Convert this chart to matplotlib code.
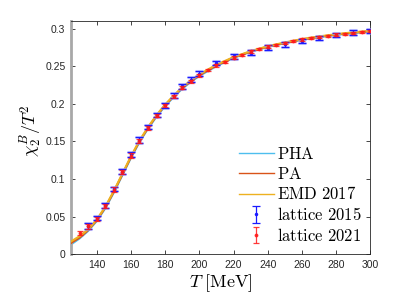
import matplotlib
matplotlib.use("Agg")
import matplotlib.pyplot as plt
import numpy as np

# model curves
T_curve = [125, 130, 135, 140, 145, 150, 155, 160, 165, 170, 175, 180, 185, 190, 195,
           200, 210, 220, 230, 240, 250, 260, 270, 280, 290, 300]
pha = [0.013, 0.021, 0.031, 0.044, 0.061, 0.082, 0.105, 0.128, 0.149, 0.167, 0.183,
       0.197, 0.209, 0.220, 0.229, 0.237, 0.250, 0.261, 0.269, 0.2755, 0.2805, 0.285,
       0.2885, 0.2915, 0.294, 0.296]
pa = [0.015, 0.022, 0.032, 0.045, 0.062, 0.083, 0.106, 0.129, 0.150, 0.168, 0.184,
      0.198, 0.210, 0.221, 0.230, 0.238, 0.251, 0.2615, 0.2695, 0.276, 0.281, 0.2855,
      0.289, 0.292, 0.2945, 0.2965]
emd = [0.017, 0.024, 0.033, 0.046, 0.063, 0.084, 0.107, 0.130, 0.151, 0.169, 0.185,
       0.199, 0.211, 0.222, 0.231, 0.239, 0.252, 0.262, 0.270, 0.2765, 0.2815, 0.286,
       0.2895, 0.2925, 0.295, 0.297]

# lattice 2015
T15 = [135, 140, 145, 150, 155, 160, 165, 170, 175, 180, 185, 190, 195, 200,
       210, 220, 230, 240, 250, 260, 270, 280, 290, 300]
y15 = [0.038, 0.048, 0.065, 0.087, 0.110, 0.133, 0.152, 0.169, 0.185, 0.198, 0.211,
       0.223, 0.232, 0.240, 0.2545, 0.263, 0.268, 0.2745, 0.279, 0.2835, 0.2875,
       0.2915, 0.2945, 0.297]
e15 = [0.004, 0.003, 0.003, 0.003, 0.0035, 0.0035, 0.0035, 0.003, 0.003, 0.003, 0.003,
       0.003, 0.003, 0.003, 0.003, 0.003, 0.003, 0.003, 0.003, 0.003, 0.003, 0.003,
       0.003, 0.003]

# lattice 2021
T21 = [130, 135, 140, 145, 150, 155, 160, 165, 170, 175, 180, 185, 190, 195, 200,
       205, 210, 215, 220, 225, 230, 235, 240, 245, 250, 255, 260, 265, 270, 275,
       280, 285, 290, 295, 300]
y21 = [0.028, 0.037, 0.047, 0.064, 0.086, 0.1095, 0.131, 0.151, 0.168, 0.184, 0.198,
       0.210, 0.221, 0.230, 0.238, 0.245, 0.251, 0.256, 0.2615, 0.265, 0.2695, 0.273,
       0.276, 0.2785, 0.281, 0.283, 0.2855, 0.287, 0.289, 0.2905, 0.292, 0.293,
       0.2945, 0.2955, 0.2965]
e21 = [0.003, 0.003, 0.003, 0.003, 0.003, 0.003, 0.003, 0.0025, 0.0025, 0.002, 0.002,
       0.002, 0.002, 0.002, 0.002, 0.0015, 0.0015, 0.0015, 0.0015, 0.0015, 0.0015,
       0.0015, 0.0015, 0.0015, 0.0015, 0.0015, 0.0015, 0.0015, 0.0015, 0.0015, 0.0015,
       0.0015, 0.0015, 0.0015, 0.0015]

xticks = [140, 160, 180, 200, 220, 240, 260, 280, 300]
yticks = [0, 0.05, 0.1, 0.15, 0.2, 0.25, 0.3]
ytick_labels = ['0', '0.05', '0.1', '0.15', '0.2', '0.25', '0.3']

plt.rcParams['mathtext.fontset'] = 'cm'
plt.rcParams['font.family'] = ['Liberation Sans', 'DejaVu Sans']

fig = plt.figure(figsize=(4.07, 3.08), dpi=100)
ax = fig.add_axes([0.1744, 0.1744, 0.7359, 0.7574])

ax.plot(T_curve, pha, color='#4DBEEE', lw=1.5, label=r'$\mathrm{PHA}$', zorder=2)
ax.plot(T_curve, pa, color='#D95319', lw=1.5, label=r'$\mathrm{PA}$', zorder=3)
ax.plot(T_curve, emd, color='#EDB120', lw=1.5, label=r'$\mathrm{EMD\ 2017}$', zorder=4)

# light halo under the 2015 bars
ax.errorbar(T15, y15, yerr=e15, fmt='none', ecolor='#9fa8ff', elinewidth=2.2,
            capsize=3, capthick=2.2, alpha=0.6, zorder=4.5)
ax.errorbar(T15, y15, yerr=e15, fmt='.', color='#1a1aff', ms=3, elinewidth=0.9,
            capsize=2.8, capthick=0.9, label=r'$\mathrm{lattice\ 2015}$', zorder=5)
ax.errorbar(T21, y21, yerr=e21, fmt='.', color='#ff1a1a', ms=3.5, elinewidth=0.9,
            capsize=2, capthick=0.9, alpha=0.85, label=r'$\mathrm{lattice\ 2021}$', zorder=6)

ax.set_xlim(125, 300)
ax.set_ylim(0, 0.31)
ax.set_xticks(xticks)
ax.set_yticks(yticks)
ax.set_yticklabels(ytick_labels)
ax.tick_params(direction='in', top=True, right=True, labelsize=7.5, length=3,
               width=0.6, colors='#262626', pad=4)
for s in ax.spines.values():
    s.set_color('#262626')
    s.set_linewidth(0.6)
ax.spines['left'].set_color('#a8a8a8')
ax.spines['left'].set_linewidth(2)

ax.set_xlabel(r'$T\ \mathrm{[MeV]}$', fontsize=13, labelpad=2)
ax.set_ylabel(r'$\chi_2^B/T^2$', fontsize=13, labelpad=2)
ax.yaxis.set_label_coords(-0.09, 0.53)

leg = ax.legend(loc='lower left', frameon=False, fontsize=12,
                handlelength=2.1, handletextpad=0.2, labelspacing=0.22,
                borderaxespad=0, borderpad=0, bbox_to_anchor=(0.56, 0.045))
for h in leg.get_lines():
    h.set_linewidth(1.0)

fig.savefig('out.png', dpi=100)
